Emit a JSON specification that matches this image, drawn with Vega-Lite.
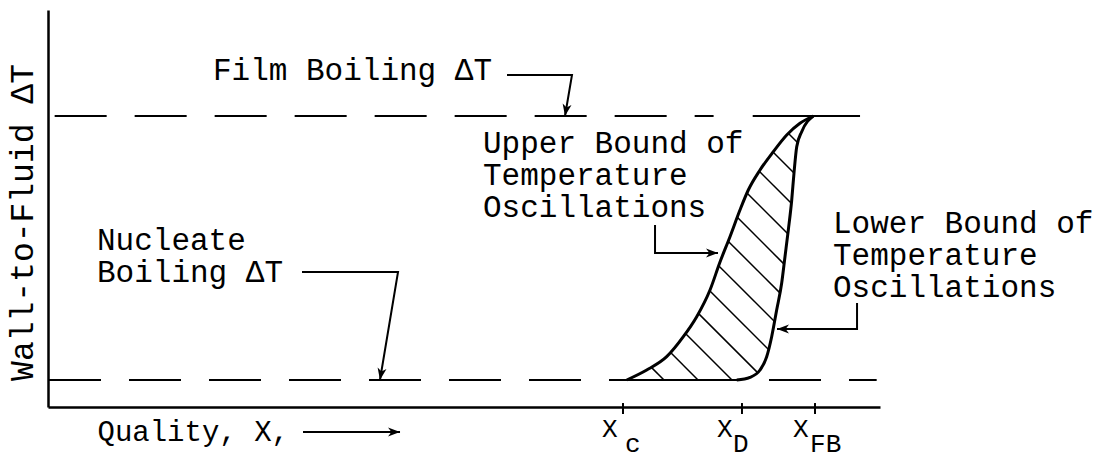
{
  "$schema": "https://vega.github.io/schema/vega-lite/v6.json",
  "width": 832,
  "height": 397,
  "autosize": {"type": "none"},
  "padding": {"left": 48, "top": 10, "right": 233, "bottom": 53},
  "background": "white",
  "config": {"view": {"stroke": null}, "font": "Liberation Mono"},
  "datasets": {
    "levels": [
      {"line": "Film boiling ΔT", "x": 0.8, "x2": 80.0, "y": 73.3},
      {"line": "Nucleate boiling ΔT", "x": 0.12, "x2": 99.6, "y": 6.8}
    ],
    "outline": [
      {"part": "film level at top of band", "x": 84.7, "x2": 97.6, "y": 73.3},
      {"part": "nucleate level under band", "x": 69.56, "x2": 82.78, "y": 6.8}
    ],
    "bounds": [
      {"bound": "upper", "seq": 1, "x": 69.56, "y": 6.8},
      {"bound": "upper", "seq": 2, "x": 71.96, "y": 9.32},
      {"bound": "upper", "seq": 3, "x": 74.36, "y": 12.67},
      {"bound": "upper", "seq": 4, "x": 76.36, "y": 17.71},
      {"bound": "upper", "seq": 5, "x": 77.97, "y": 22.75},
      {"bound": "upper", "seq": 6, "x": 79.57, "y": 29.47},
      {"bound": "upper", "seq": 7, "x": 80.77, "y": 36.52},
      {"bound": "upper", "seq": 8, "x": 81.97, "y": 42.9},
      {"bound": "upper", "seq": 9, "x": 83.17, "y": 49.62},
      {"bound": "upper", "seq": 10, "x": 84.17, "y": 54.66},
      {"bound": "upper", "seq": 11, "x": 85.58, "y": 59.7},
      {"bound": "upper", "seq": 12, "x": 87.18, "y": 64.31},
      {"bound": "upper", "seq": 13, "x": 88.79, "y": 68.51},
      {"bound": "upper", "seq": 14, "x": 90.38, "y": 71.46},
      {"bound": "upper", "seq": 15, "x": 91.98, "y": 73.3},
      {"bound": "lower", "seq": 1, "x": 82.78, "y": 6.8},
      {"bound": "lower", "seq": 2, "x": 84.38, "y": 7.48},
      {"bound": "lower", "seq": 3, "x": 85.58, "y": 9.32},
      {"bound": "lower", "seq": 4, "x": 86.38, "y": 12.67},
      {"bound": "lower", "seq": 5, "x": 86.98, "y": 17.71},
      {"bound": "lower", "seq": 6, "x": 87.58, "y": 24.43},
      {"bound": "lower", "seq": 7, "x": 88.18, "y": 31.16},
      {"bound": "lower", "seq": 8, "x": 88.58, "y": 37.86},
      {"bound": "lower", "seq": 9, "x": 88.98, "y": 44.58},
      {"bound": "lower", "seq": 10, "x": 89.39, "y": 52.14},
      {"bound": "lower", "seq": 11, "x": 89.66, "y": 58.87},
      {"bound": "lower", "seq": 12, "x": 89.99, "y": 65.57},
      {"bound": "lower", "seq": 13, "x": 90.59, "y": 69.35},
      {"bound": "lower", "seq": 14, "x": 91.98, "y": 73.3}
    ],
    "hatch": [
      {"x": 89.0, "y": 68.89, "x2": 90.14, "y2": 66.5},
      {"x": 87.14, "y": 64.23, "x2": 89.66, "y2": 58.94},
      {"x": 85.49, "y": 59.37, "x2": 89.34, "y2": 51.31},
      {"x": 84.01, "y": 53.9, "x2": 88.92, "y2": 43.63},
      {"x": 82.85, "y": 47.78, "x2": 88.47, "y2": 35.99},
      {"x": 81.75, "y": 41.76, "x2": 87.97, "y2": 28.74},
      {"x": 80.61, "y": 35.59, "x2": 87.32, "y2": 21.54},
      {"x": 79.53, "y": 29.29, "x2": 86.6, "y2": 14.48},
      {"x": 78.17, "y": 23.58, "x2": 85.23, "y2": 8.79},
      {"x": 76.62, "y": 18.51, "x2": 82.21, "y2": 6.8},
      {"x": 74.8, "y": 13.78, "x2": 78.13, "y2": 6.8},
      {"x": 72.49, "y": 10.05, "x2": 74.04, "y2": 6.8}
    ],
    "leaders": [
      {"id": "film", "seq": 1, "x": 55.17, "y": 83.63},
      {"id": "film", "seq": 2, "x": 62.98, "y": 83.63},
      {"id": "film", "seq": 3, "x": 62.14, "y": 73.3},
      {"id": "nucleate", "seq": 1, "x": 30.53, "y": 34.0},
      {"id": "nucleate", "seq": 2, "x": 42.07, "y": 34.0},
      {"id": "nucleate", "seq": 3, "x": 39.9, "y": 6.8},
      {"id": "upper", "seq": 1, "x": 72.96, "y": 45.84},
      {"id": "upper", "seq": 2, "x": 72.96, "y": 38.79},
      {"id": "upper", "seq": 3, "x": 80.53, "y": 38.79},
      {"id": "lower", "seq": 1, "x": 97.24, "y": 26.2},
      {"id": "lower", "seq": 2, "x": 97.24, "y": 19.65},
      {"id": "lower", "seq": 3, "x": 87.62, "y": 19.65},
      {"id": "quality", "seq": 1, "x": 30.65, "y": -6.3},
      {"id": "quality", "seq": 2, "x": 42.31, "y": -6.3}
    ],
    "arrows": [
      {"points": "down", "x": 62.14, "y": 73.3},
      {"points": "down", "x": 39.9, "y": 6.8},
      {"points": "right", "x": 80.53, "y": 38.79},
      {"points": "left", "x": 87.62, "y": 19.65},
      {"points": "right", "x": 42.31, "y": -6.3}
    ],
    "labels": [
      {"text": "Film Boiling ΔT", "x": 19.83, "y": 88.41},
      {"text": "Upper Bound of\nTemperature\nOscillations", "x": 52.28, "y": 70.03},
      {"text": "Lower Bound of\nTemperature\nOscillations", "x": 94.35, "y": 49.87},
      {"text": "Nucleate\nBoiling ΔT", "x": 5.89, "y": 45.59}
    ],
    "ticks": [
      {"tick": "X_c", "x": 69.11, "y": 1.0, "y2": -1.76},
      {"tick": "X_D", "x": 83.41, "y": 1.0, "y2": -1.76},
      {"tick": "X_FB", "x": 92.19, "y": 1.0, "y2": -1.76}
    ],
    "xlabels": [
      {"role": "symbol", "text": "X", "x": 66.59, "y": -7.56},
      {"role": "symbol", "text": "X", "x": 80.41, "y": -7.56},
      {"role": "symbol", "text": "X", "x": 89.54, "y": -7.56},
      {"role": "subscript", "text": "c", "x": 69.35, "y": -11.34},
      {"role": "subscript", "text": "D", "x": 82.33, "y": -11.34},
      {"role": "subscript", "text": "FB", "x": 91.59, "y": -11.34}
    ]
  },
  "encoding": {
    "x": {
      "field": "x",
      "type": "quantitative",
      "scale": {"domain": [0, 100], "nice": false, "zero": false},
      "axis": {
        "domain": true, "domainColor": "black", "domainWidth": 2.5,
        "ticks": false, "labels": false, "grid": false,
        "title": "Quality, X,",
        "titleFont": "Liberation Mono", "titleFontSize": 29, "titleFontWeight": "normal", "titleColor": "black",
        "titleX": 49, "titleY": 33, "titleAlign": "left", "titleAnchor": "start", "titleBaseline": "alphabetic"
      }
    },
    "y": {
      "field": "y",
      "type": "quantitative",
      "scale": {"domain": [0, 100], "nice": false, "zero": false},
      "axis": {
        "domain": true, "domainColor": "black", "domainWidth": 2.5,
        "ticks": false, "labels": false, "grid": false,
        "title": "Wall-to-Fluid ΔT",
        "titleFont": "Liberation Mono", "titleFontSize": 33, "titleFontWeight": "normal", "titleColor": "black",
        "titleAngle": 270, "titleX": -16, "titleY": 212, "titleAlign": "center", "titleBaseline": "alphabetic"
      }
    }
  },
  "layer": [
    {
      "data": {"name": "levels"},
      "mark": {"type": "rule", "color": "black", "strokeWidth": 2, "strokeDash": [52, 28]},
      "encoding": {"x2": {"field": "x2"}}
    },
    {
      "data": {"name": "outline"},
      "mark": {"type": "rule", "color": "black", "strokeWidth": 2.2},
      "encoding": {"x2": {"field": "x2"}}
    },
    {
      "data": {"name": "hatch"},
      "mark": {"type": "rule", "color": "black", "strokeWidth": 1.5},
      "encoding": {"x2": {"field": "x2"}, "y2": {"field": "y2"}}
    },
    {
      "data": {"name": "bounds"},
      "mark": {"type": "line", "color": "black", "strokeWidth": 3, "interpolate": "monotone"},
      "encoding": {"detail": {"field": "bound"}, "order": {"field": "seq", "type": "quantitative"}}
    },
    {
      "data": {"name": "leaders"},
      "mark": {"type": "line", "color": "black", "strokeWidth": 2},
      "encoding": {"detail": {"field": "id"}, "order": {"field": "seq", "type": "quantitative"}}
    },
    {
      "data": {"name": "arrows"},
      "transform": [{"filter": "datum.points === 'down'"}],
      "mark": {"type": "point", "shape": "M0,0L-0.6,1.6L0,1.15L0.6,1.6Z", "size": 225, "filled": true, "color": "black", "opacity": 1, "angle": 190}
    },
    {
      "data": {"name": "arrows"},
      "transform": [{"filter": "datum.points === 'right'"}],
      "mark": {"type": "point", "shape": "M0,0L-0.6,1.6L0,1.15L0.6,1.6Z", "size": 225, "filled": true, "color": "black", "opacity": 1, "angle": 90}
    },
    {
      "data": {"name": "arrows"},
      "transform": [{"filter": "datum.points === 'left'"}],
      "mark": {"type": "point", "shape": "M0,0L-0.6,1.6L0,1.15L0.6,1.6Z", "size": 225, "filled": true, "color": "black", "opacity": 1, "angle": 270}
    },
    {
      "data": {"name": "ticks"},
      "mark": {"type": "rule", "color": "black", "strokeWidth": 2},
      "encoding": {"y2": {"field": "y2"}}
    },
    {
      "data": {"name": "labels"},
      "mark": {"type": "text", "font": "Liberation Mono", "fontSize": 31, "align": "left", "baseline": "top", "lineBreak": "\n", "lineHeight": 32, "color": "black"},
      "encoding": {"text": {"field": "text"}}
    },
    {
      "data": {"name": "xlabels"},
      "transform": [{"filter": "datum.role === 'symbol'"}],
      "mark": {"type": "text", "font": "Liberation Mono", "fontSize": 26, "align": "left", "baseline": "alphabetic", "color": "black"},
      "encoding": {"text": {"field": "text"}}
    },
    {
      "data": {"name": "xlabels"},
      "transform": [{"filter": "datum.role === 'subscript'"}],
      "mark": {"type": "text", "font": "Liberation Mono", "fontSize": 26, "align": "left", "baseline": "alphabetic", "color": "black"},
      "encoding": {"text": {"field": "text"}}
    }
  ]
}
